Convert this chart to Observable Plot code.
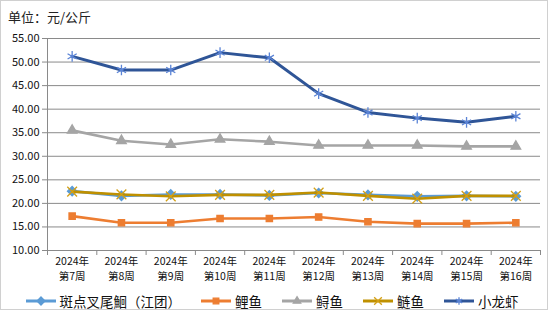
<!DOCTYPE html>
<html><head><meta charset="utf-8">
<script src="https://cdn.jsdelivr.net/npm/d3@7"></script>
<script src="https://cdn.jsdelivr.net/npm/@observablehq/plot@0.6"></script>
<style>
body{margin:0;background:#fff;font-family:"Noto Sans CJK SC","DejaVu Sans",sans-serif;}
#wrap{position:relative;width:550px;height:322px;overflow:hidden;}
#frame{position:absolute;left:0;top:0;width:546px;height:308px;border:1px solid #d0d0d0;}
#title{position:absolute;left:8px;top:7px;font-size:13px;color:#222;}
#chart{position:absolute;left:0;top:28px;}
#legend{position:absolute;left:12px;top:291px;width:520px;display:flex;justify-content:center;gap:20px;font-size:13.5px;color:#111;}
.item{display:flex;align-items:center;gap:4px;}
</style></head>
<body><div id="wrap"><div id="frame"></div><div id="title">单位：元/公斤</div><div id="chart"></div><div id="legend"></div></div>
<script>
const weekYears = ["2024年","2024年","2024年","2024年","2024年","2024年","2024年","2024年","2024年","2024年"];
const weekNums = ["第7周","第8周","第9周","第10周","第11周","第12周","第13周","第14周","第15周","第16周"];
const seriesNames = ["斑点叉尾鮰（江团）","鲤鱼","鲟鱼","鲢鱼","小龙虾"];
const catfish = [22.6,21.6,21.9,21.9,21.7,22.2,21.8,21.5,21.6,21.5];
const carp = [17.3,15.9,15.9,16.8,16.8,17.1,16.1,15.7,15.7,15.9];
const sturgeon = [35.5,33.3,32.5,33.6,33.1,32.3,32.3,32.3,32.1,32.1];
const silverCarp = [22.5,21.9,21.5,21.8,21.8,22.3,21.6,21.0,21.6,21.6];
const crayfish = [51.2,48.3,48.3,52.0,50.9,43.3,39.3,38.1,37.2,38.5];
const yTicks = [10,15,20,25,30,35,40,45,50,55];

const styles = [
  {line:"#5B9BD5", mark:"#5B9BD5", symbol:"diamond2", fill:"#5B9BD5", r:4.2},
  {line:"#ED7D31", mark:"#ED7D31", symbol:"square2", fill:"#ED7D31", r:4},
  {line:"#A5A5A5", mark:"#A5A5A5", symbol:"triangle2", fill:"#A5A5A5", r:4.6},
  {line:"#BF9000", mark:"#D4A017", symbol:"times", fill:"none", r:4.5},
  {line:"#2F5597", mark:"#5B84D6", symbol:"asterisk", fill:"none", r:5}
];
const allSeries = [catfish, carp, sturgeon, silverCarp, crayfish];
const data = [];
allSeries.forEach((vals, s) => vals.forEach((v, i) => data.push({s, i, x: i + 0.5, v})));
const centers = weekNums.map((w, i) => i + 0.5);

const marks = [
  Plot.gridY(yTicks, {stroke:"#8a8a8a", strokeOpacity:1, strokeWidth:1}),
  Plot.ruleX([0], {stroke:"#8a8a8a"}),
  Plot.axisY(yTicks, {label:null, tickSize:5, tickPadding:3, stroke:"#8a8a8a", tickFormat:d=>d.toFixed(2), fontSize:11, fill:"#111"}),
  Plot.axisX(d3.range(11), {label:null, tickSize:5, tickFormat:()=>"", stroke:"#8a8a8a"}),
  Plot.axisX(centers, {label:null, tickSize:0, tickPadding:7, tickFormat:d=>weekYears[d-0.5], fontSize:10.5, fill:"#111"}),
  Plot.axisX(centers, {label:null, tickSize:0, tickPadding:22, tickFormat:d=>weekNums[d-0.5], fontSize:10.5, fill:"#111"})
];
styles.forEach((st, s) => {
  const sd = data.filter(d => d.s === s);
  marks.push(Plot.line(sd, {x:"x", y:"v", stroke:st.line, strokeWidth: s===4?3:2.6}));
  marks.push(Plot.dot(sd, {x:"x", y:"v", symbol:()=>st.symbol, r:st.r, stroke:st.mark, fill:st.fill, strokeWidth:1.3}));
});

const chart = Plot.plot({
  width:550, height:262,
  marginTop:10, marginBottom:40, marginLeft:47, marginRight:10,
  x:{domain:[0,10], axis:null},
  y:{domain:[10,55], axis:null},
  symbol:{type:"identity"},
  style:{fontFamily:'"Noto Sans CJK SC","DejaVu Sans",sans-serif', background:"transparent"},
  marks
});
document.getElementById("chart").appendChild(chart);

const legend = document.getElementById("legend");
seriesNames.forEach((name, s) => {
  const st = styles[s];
  const item = document.createElement("div"); item.className = "item";
  const sw = d3.create("svg").attr("width",30).attr("height",12);
  sw.append("line").attr("x1",0).attr("x2",30).attr("y1",6).attr("y2",6).attr("stroke",st.line).attr("stroke-width",3);
  const sym = {diamond2:d3.symbolDiamond2, square2:d3.symbolSquare2, triangle2:d3.symbolTriangle2, times:d3.symbolTimes, asterisk:d3.symbolAsterisk}[st.symbol];
  sw.append("path").attr("transform","translate(15,6)").attr("d", d3.symbol(sym, 40)())
    .attr("fill", st.fill).attr("stroke", st.mark).attr("stroke-width",1.3);
  item.appendChild(sw.node());
  const t = document.createElement("span"); t.textContent = name;
  item.appendChild(t);
  legend.appendChild(item);
});
</script></body></html>
